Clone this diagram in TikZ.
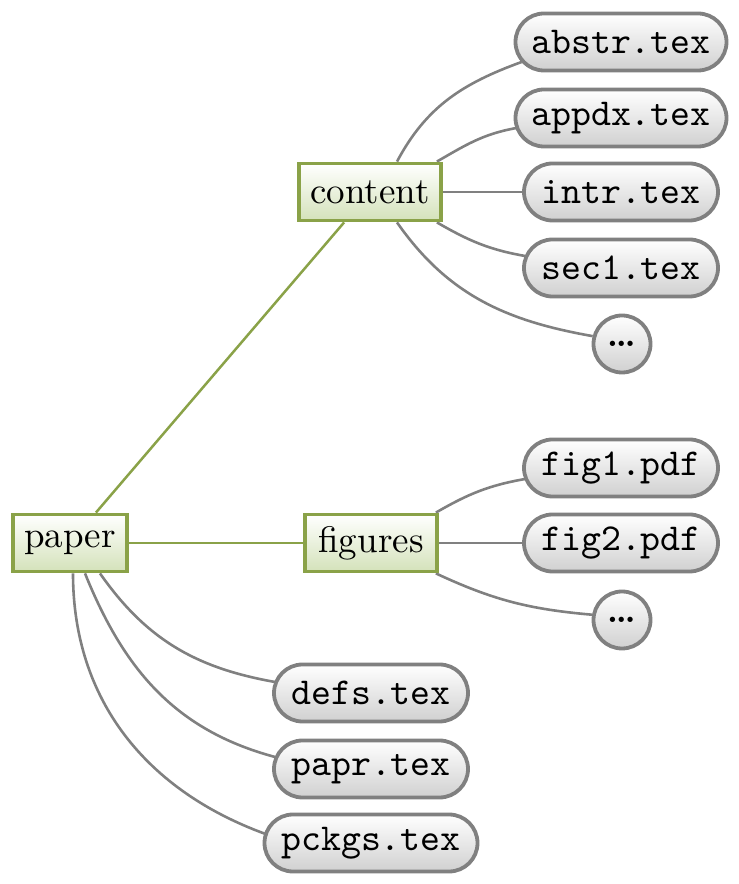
\documentclass[tikz,border=0pt]{standalone}
\usepackage{fontspec}
\setmainfont{lmroman10}[Extension=.otf, UprightFont=*-regular, BoldFont=*-bold, ItalicFont=*-italic]
\setmonofont{lmmono10}[Extension=.otf, UprightFont=*-regular]
\usetikzlibrary{shapes.misc,backgrounds,calc}
\definecolor{leafgreen}{RGB}{138,162,72}
\definecolor{greenfill}{RGB}{212,226,186}
\definecolor{bordergray}{RGB}{128,128,128}
\definecolor{grayfill}{RGB}{208,208,208}
\definecolor{edgegray}{RGB}{128,128,128}
\begin{document}
\begin{tikzpicture}[x=1pt,y=1pt,
  folder/.style={draw=leafgreen, line width=3.8pt, top color=white, bottom color=greenfill,
    minimum width=#1, minimum height=57pt, inner sep=0pt, font=\fontsize{37}{40}\selectfont},
  file/.style={rounded rectangle, draw=bordergray, line width=3.8pt, top color=white, bottom color=grayfill,
    minimum width=#1, minimum height=57pt, inner sep=0pt, font=\fontsize{38}{40}\selectfont\ttfamily},
  more/.style={circle, draw=bordergray, line width=3.8pt, top color=white, bottom color=grayfill,
    minimum size=57pt, inner sep=0pt, font=\fontsize{34}{40}\selectfont\bfseries},
  link/.style={draw=edgegray, line width=2.6pt},
  trunk/.style={draw=leafgreen, line width=2.5pt}]
\useasboundingbox (0,0) rectangle (739,884);
% folders
\node[folder=114pt] (paper) at (70,341) {paper};
\node[folder=142pt] (content) at (370,692) {content};
\node[folder=132pt] (figures) at (371,341) {figures};
% files
\node[file=211pt] (abstr) at (621,842) {abstr.tex};
\node[file=211pt] (appdx) at (621,766) {appdx.tex};
\node[file=194pt] (intr) at (621,692) {intr.tex};
\node[file=194pt] (sec1) at (621,616) {sec1.tex};
\node[more] (dotsA) at (622,540) {\raisebox{-6pt}{\ldots}};
\node[file=194pt] (fig1) at (621,416) {fig1.pdf};
\node[file=194pt] (fig2) at (621,341) {fig2.pdf};
\node[more] (dotsB) at (622,264) {\raisebox{-6pt}{\ldots}};
\node[file=194pt] (defs) at (371,191) {defs.tex};
\node[file=194pt] (papr) at (371,115) {papr.tex};
\node[file=213pt] (pckgs) at (371,41) {pckgs.tex};
% connectors
\begin{pgfonlayer}{background}
\draw[trunk] (paper) -- (content);
\draw[trunk] (paper) -- (figures);
\draw[link] ([xshift=27pt]content.north) to[out=62,in=200] ([shift={(8pt,-20pt)}]abstr.west);
\draw[link] ([xshift=-6pt]content.north east) to[out=30,in=190] ([shift={(3pt,-10pt)}]appdx.west);
\draw[link] (content) -- (intr);
\draw[link] ([xshift=-6pt]content.south east) to[out=-30,in=170] ([shift={(3pt,12pt)}]sec1.west);
\draw[link] ([xshift=27pt]content.south) to[out=-55,in=170] (dotsA.165);
\draw[link] ([xshift=-3pt]figures.north east) to[out=30,in=190] ([shift={(3pt,-11pt)}]fig1.west);
\draw[link] (figures) -- (fig2);
\draw[link] ([xshift=-3pt]figures.south east) to[out=-25,in=175] (dotsB.170);
\draw[link] ([xshift=30pt]paper.south) to[out=-55,in=170] ([shift={(3pt,11pt)}]defs.west);
\draw[link] ([xshift=15pt]paper.south) to[out=-68,in=165] ([shift={(3pt,12pt)}]papr.west);
\draw[link] ([xshift=3pt]paper.south) to[out=-90,in=160] ([shift={(3pt,9pt)}]pckgs.west);
\end{pgfonlayer}
\end{tikzpicture}
\end{document}
